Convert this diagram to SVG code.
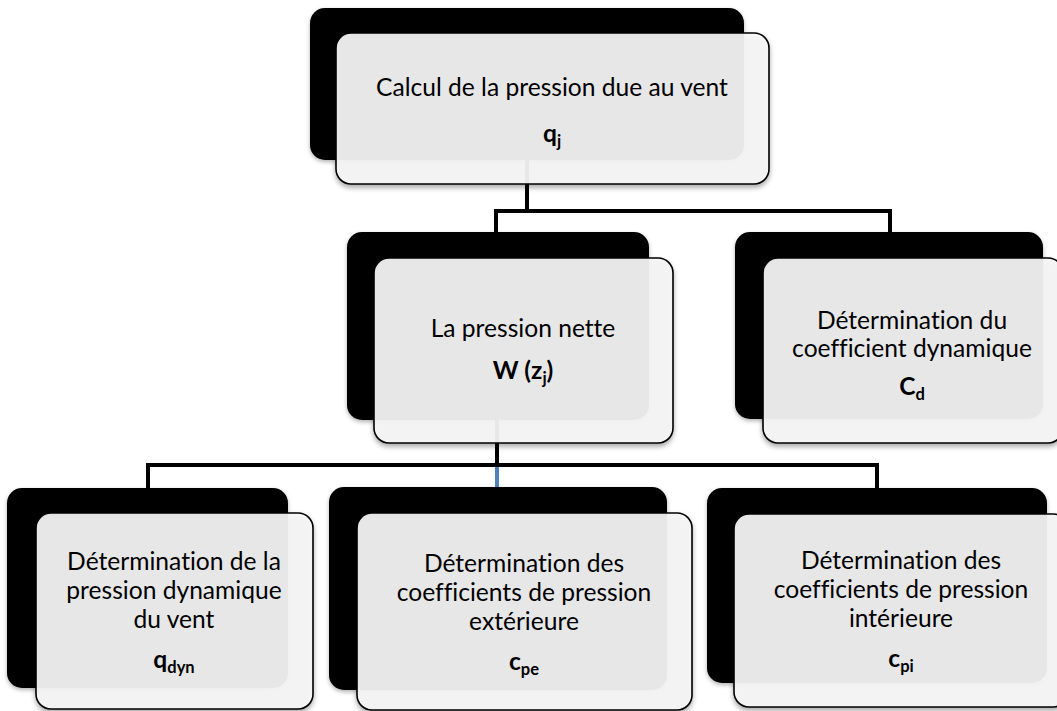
<svg xmlns="http://www.w3.org/2000/svg" width="1057" height="711" viewBox="0 0 1057 711">
<style>
.bk{fill:#060606;filter:url(#sh)}
.fg{fill:#f5f5f5;fill-opacity:0.93;stroke:#000;stroke-width:1.6;filter:url(#sh2)}
.t{font-family:Lato,"Liberation Sans",sans-serif;font-size:24.6px;fill:#000;text-anchor:middle;font-variant-ligatures:none;font-feature-settings:"liga" 0}
.b{font-weight:bold}
.s{font-size:16.5px;font-weight:bold}
.cn{fill:none;stroke:#000;stroke-width:4}
</style>
<defs>
<filter id="sh" x="-5%" y="-5%" width="110%" height="115%"><feDropShadow dx="0" dy="2" stdDeviation="2" flood-color="#000" flood-opacity="0.3"/></filter>
<filter id="sh2" x="-5%" y="-5%" width="110%" height="115%"><feDropShadow dx="0" dy="3" stdDeviation="2.5" flood-color="#000" flood-opacity="0.35"/></filter>
</defs>
<rect width="1057" height="711" fill="#fff"/>
<g id="connectors">
<path class="cn" d="M527,160 V211 M496,232 V211 H890 V232"/>
<path class="cn" d="M497,420 V465 M148,488 V465 H877 V488"/>
<path d="M497,467 V488" stroke="#4f81bd" stroke-width="4" fill="none"/>
</g>
<g id="node-calcul">
<rect class="bk" x="310" y="8" width="434" height="152" rx="15"/>
<rect class="fg" x="336" y="33" width="433" height="151" rx="15"/>
<text class="t" x="552" y="96">Calcul de la pression due au vent</text>
<text class="t b" x="552" y="142">q<tspan class="s" dy="5">j</tspan></text>
</g>
<g id="node-w">
<rect class="bk" x="347" y="232" width="302" height="188" rx="15"/>
<rect class="fg" x="374" y="258" width="299" height="185" rx="15"/>
<text class="t" x="523" y="337">La pression nette</text>
<text class="t b" x="523" y="379">W (z<tspan class="s" dy="5">j</tspan><tspan dy="-5">)</tspan></text>
</g>
<g id="node-cd">
<rect class="bk" x="735" y="232" width="308" height="187" rx="15"/>
<rect class="fg" x="763" y="258" width="300" height="185" rx="15"/>
<text class="t" x="912" y="329">Détermination du</text>
<text class="t" x="912" y="357">coefficient dynamique</text>
<text class="t b" x="912" y="395">C<tspan class="s" dy="5">d</tspan></text>
</g>
<g id="node-qdyn">
<rect class="bk" x="7" y="488" width="281" height="200" rx="15"/>
<rect class="fg" x="36" y="513" width="277" height="196" rx="15"/>
<text class="t" x="174" y="570">Détermination de la</text>
<text class="t" x="174" y="599">pression dynamique</text>
<text class="t" x="174" y="628">du vent</text>
<text class="t b" x="174" y="668">q<tspan class="s" dy="5">dyn</tspan></text>
</g>
<g id="node-cpe">
<rect class="bk" x="329" y="487" width="338" height="203" rx="15"/>
<rect class="fg" x="357" y="513" width="335" height="197" rx="15"/>
<text class="t" x="524" y="572">Détermination des</text>
<text class="t" x="524" y="601">coefficients de pression</text>
<text class="t" x="524" y="630">extérieure</text>
<text class="t b" x="524" y="670">c<tspan class="s" dy="5">pe</tspan></text>
</g>
<g id="node-cpi">
<rect class="bk" x="707" y="488" width="340" height="195" rx="15"/>
<rect class="fg" x="734" y="514" width="334" height="193" rx="15"/>
<text class="t" x="901" y="569">Détermination des</text>
<text class="t" x="901" y="598">coefficients de pression</text>
<text class="t" x="901" y="627">intérieure</text>
<text class="t b" x="901" y="667">c<tspan class="s" dy="5">pi</tspan></text>
</g>
</svg>
